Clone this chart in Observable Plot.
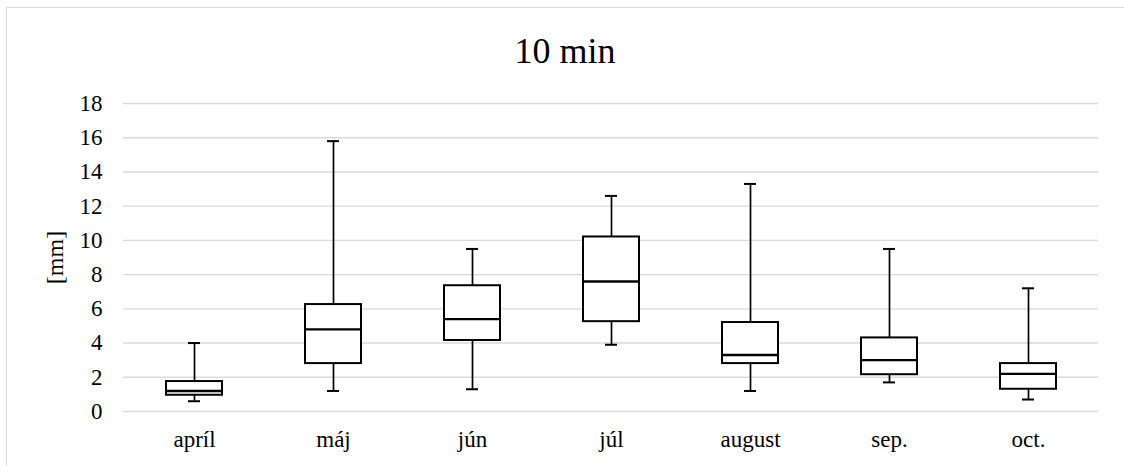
<!DOCTYPE html>
<html>
<head>
<meta charset="utf-8">
<script src="https://cdn.jsdelivr.net/npm/d3@7"></script>
<script src="https://cdn.jsdelivr.net/npm/@observablehq/plot@0.6"></script>
<style>
  html, body { margin: 0; padding: 0; background: #fff; overflow: hidden; width: 1124px; height: 466px; }
  #wrap { position: relative; width: 1124px; height: 466px; overflow: hidden; font-family: "Liberation Serif", "Times New Roman", serif; }
  #lineTop { position: absolute; left: 6px; top: 7px; width: 1118px; height: 1px; background: #d9d9d9; }
  #lineLeft { position: absolute; left: 6px; top: 7px; width: 1px; height: 459px; background: #d9d9d9; }
  #title { position: absolute; left: 6px; width: 1118px; top: 33px; text-align: center; font-size: 36px; line-height: 36px; color: #000; }
  #chart { position: absolute; left: 0; top: 90px; width: 1124px; height: 376px; }
  #chart svg, #chart svg text { font-family: "Liberation Serif", "Times New Roman", serif !important; }
</style>
</head>
<body>
<div id="wrap">
  <div id="lineTop"></div>
  <div id="lineLeft"></div>
  <div id="title">10 min</div>
  <div id="chart"></div>
</div>
<script>
const titleText = "10 min";
const yLabel = "[mm]";
const months = ["apríl", "máj", "jún", "júl", "august", "sep.", "oct."];
const minVals = [0.6, 1.2, 1.3, 3.9, 1.2, 1.7, 0.7];
const q1Vals  = [0.95, 2.8, 4.15, 5.25, 2.8, 2.15, 1.3];
const medVals = [1.2, 4.8, 5.4, 7.6, 3.3, 3.0, 2.2];
const q3Vals  = [1.75, 6.25, 7.35, 10.2, 5.2, 4.3, 2.8];
const maxVals = [4.0, 15.8, 9.5, 12.6, 13.3, 9.5, 7.2];
const yTicks = [0, 2, 4, 6, 8, 10, 12, 14, 16, 18];

document.getElementById("title").textContent = titleText;

const data = months.map((m, i) => ({
  month: m, min: minVals[i], q1: q1Vals[i], med: medVals[i], q3: q3Vals[i], max: maxVals[i]
}));

const serif = "Liberation Serif";

const chart = Plot.plot({
  width: 1124,
  height: 376,
  marginTop: 13,
  marginBottom: 55,
  marginLeft: 123,
  marginRight: 26,
  style: { fontFamily: serif, fontSize: "23px", background: "transparent", color: "#000" },
  x: { domain: months, paddingInner: 0.6, paddingOuter: 0.3, label: null },
  y: { domain: [0, 18], label: null },
  marks: [
    Plot.gridY(yTicks, { stroke: "#d9d9d9", strokeOpacity: 1, strokeWidth: 1.4 }),
    Plot.axisX({ tickSize: 0, tickPadding: 19.5, label: null, fontSize: 23, fontFamily: serif }),
    Plot.axisY(yTicks, { tickSize: 0, tickPadding: 21, label: null, fontSize: 23, fontFamily: serif }),
    Plot.axisY([], { label: yLabel, labelAnchor: "center", labelArrow: "none", labelOffset: 78, fontSize: 24, fontFamily: serif }),
    Plot.ruleX(data, { x: "month", y1: "min", y2: "max", stroke: "#000", strokeWidth: 1.7 }),
    Plot.barY(data, { x: "month", y1: "q1", y2: "q3", fill: "#fff", stroke: "#000", strokeWidth: 2 }),
    Plot.tickY(data, { x: "month", y: "med", stroke: "#000", strokeWidth: 2.4 }),
    Plot.tickY(data, { x: "month", y: "min", stroke: "#000", strokeWidth: 2, insetLeft: 22, insetRight: 22 }),
    Plot.tickY(data, { x: "month", y: "max", stroke: "#000", strokeWidth: 2, insetLeft: 22, insetRight: 22 })
  ]
});
document.getElementById("chart").appendChild(chart);
</script>
</body>
</html>
